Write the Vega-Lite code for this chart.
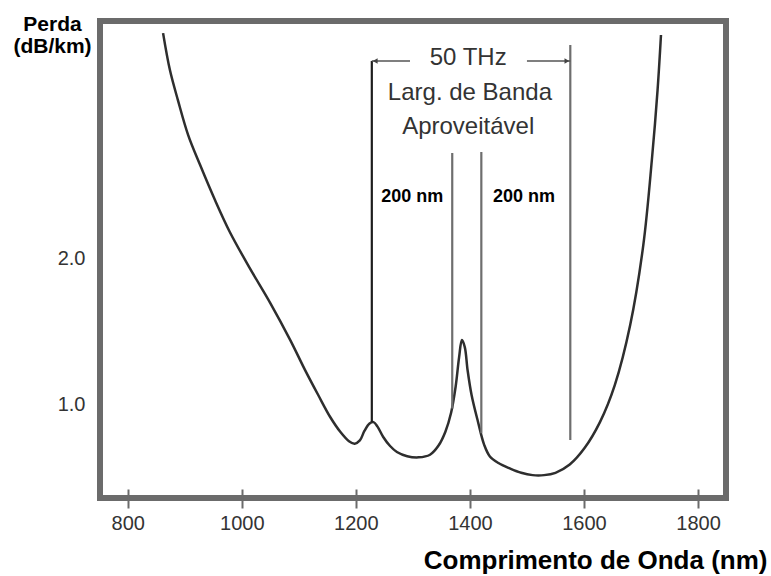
{
  "$schema": "https://vega.github.io/schema/vega-lite/v6.json",
  "width": 626,
  "height": 477,
  "autosize": {"type": "none"},
  "padding": {"left": 100, "top": 21, "right": 45, "bottom": 78},
  "background": "white",
  "config": {"view": {"stroke": "#6b6b6b", "strokeWidth": 6}, "font": "Liberation Sans"},
  "datasets": {
    "curve": [
      {"nm": 862, "v": 3.546}, {"nm": 874, "v": 3.292}, {"nm": 888, "v": 3.086}, {"nm": 906, "v": 2.846},
      {"nm": 927, "v": 2.640}, {"nm": 953, "v": 2.400}, {"nm": 979, "v": 2.181}, {"nm": 1014, "v": 1.933},
      {"nm": 1050, "v": 1.693}, {"nm": 1085, "v": 1.439}, {"nm": 1111, "v": 1.233}, {"nm": 1134, "v": 1.062},
      {"nm": 1155, "v": 0.911}, {"nm": 1173, "v": 0.808}, {"nm": 1188, "v": 0.745}, {"nm": 1198, "v": 0.728},
      {"nm": 1207, "v": 0.750}, {"nm": 1215, "v": 0.815}, {"nm": 1224, "v": 0.866}, {"nm": 1231, "v": 0.876},
      {"nm": 1238, "v": 0.845}, {"nm": 1248, "v": 0.774}, {"nm": 1260, "v": 0.712}, {"nm": 1272, "v": 0.671},
      {"nm": 1290, "v": 0.642}, {"nm": 1310, "v": 0.634}, {"nm": 1330, "v": 0.652}, {"nm": 1345, "v": 0.715},
      {"nm": 1357, "v": 0.810}, {"nm": 1367, "v": 0.940}, {"nm": 1375, "v": 1.120}, {"nm": 1381, "v": 1.320},
      {"nm": 1386, "v": 1.439}, {"nm": 1391, "v": 1.391}, {"nm": 1396, "v": 1.230}, {"nm": 1403, "v": 1.060},
      {"nm": 1414, "v": 0.880}, {"nm": 1425, "v": 0.720}, {"nm": 1435, "v": 0.640}, {"nm": 1450, "v": 0.595},
      {"nm": 1470, "v": 0.558}, {"nm": 1490, "v": 0.528}, {"nm": 1510, "v": 0.512}, {"nm": 1530, "v": 0.512},
      {"nm": 1550, "v": 0.528}, {"nm": 1575, "v": 0.585},
      {"nm": 1601, "v": 0.698}, {"nm": 1628, "v": 0.876}, {"nm": 1654, "v": 1.130}, {"nm": 1681, "v": 1.542},
      {"nm": 1704, "v": 2.091}, {"nm": 1719, "v": 2.675}, {"nm": 1729, "v": 3.155}, {"nm": 1735, "v": 3.533}
    ],
    "vlines": [
      {"nm": 1228, "v": 3.354, "v2": 0.876, "kind": "dark"},
      {"nm": 1369, "v": 2.723, "v2": 0.97, "kind": "gray"},
      {"nm": 1420, "v": 2.730, "v2": 0.80, "kind": "gray"},
      {"nm": 1576, "v": 3.464, "v2": 0.753, "kind": "gray"}
    ],
    "arrows": [
      {"nm": 1228, "nm2": 1295, "v": 3.354},
      {"nm": 1500, "nm2": 1576, "v": 3.354}
    ],
    "heads": [
      {"nm": 1234, "v": 3.354, "dir": "left"},
      {"nm": 1570, "v": 3.354, "dir": "right"}
    ],
    "labels": [
      {"nm": 1397, "v": 3.375, "label": "50 THz"},
      {"nm": 1400, "v": 3.135, "label": "Larg. de Banda"},
      {"nm": 1397, "v": 2.901, "label": "Aproveitável"}
    ],
    "boldlabels": [
      {"nm": 1299, "v": 2.421, "label": "200 nm"},
      {"nm": 1495, "v": 2.421, "label": "200 nm"}
    ]
  },
  "encoding": {
    "x": {
      "field": "nm", "type": "quantitative",
      "scale": {"domain": [751.4, 1849], "nice": false, "zero": false},
      "axis": {
        "values": [800, 1000, 1200, 1400, 1600, 1800], "format": "d",
        "grid": false, "domain": false,
        "offset": -9, "tickSize": 19, "tickColor": "#6b6b6b", "tickWidth": 2,
        "labelFontSize": 20, "labelColor": "#333", "labelPadding": 5,
        "title": "Comprimento de Onda (nm)",
        "titleFontSize": 26, "titleFontWeight": "bold", "titleColor": "#000",
        "titleAlign": "right", "titleBaseline": "alphabetic", "titleX": 667, "titleY": 79
      }
    },
    "y": {
      "field": "v", "type": "quantitative",
      "scale": {"domain": [0.355, 3.629], "nice": false, "zero": false},
      "axis": {
        "values": [1, 2], "format": ".1f",
        "grid": false, "domain": false, "ticks": false,
        "labelFontSize": 20, "labelColor": "#333", "labelPadding": 15,
        "title": ["Perda", "(dB/km)"],
        "titleFontSize": 21, "titleFontWeight": "bold", "titleColor": "#000",
        "titleAngle": 0, "titleAlign": "center", "titleBaseline": "alphabetic",
        "titleX": -48, "titleY": 9, "titleLineHeight": 22
      }
    }
  },
  "layer": [
    {
      "data": {"name": "curve"},
      "mark": {"type": "line", "color": "#2e2e2e", "strokeWidth": 2.5, "interpolate": "catmull-rom"}
    },
    {
      "data": {"name": "vlines"},
      "mark": {"type": "rule", "strokeWidth": 2.2},
      "encoding": {
        "y2": {"field": "v2"},
        "color": {"field": "kind", "type": "nominal", "scale": {"domain": ["dark", "gray"], "range": ["#1e1e1e", "#6e6e6e"]}, "legend": null}
      }
    },
    {
      "data": {"name": "arrows"},
      "mark": {"type": "rule", "strokeWidth": 1.5, "color": "#555"},
      "encoding": {"x2": {"field": "nm2"}}
    },
    {
      "data": {"name": "heads"},
      "mark": {"type": "point", "filled": true, "size": 30, "color": "#444", "opacity": 1},
      "encoding": {
        "shape": {"field": "dir", "type": "nominal", "scale": {"domain": ["left", "right"], "range": ["triangle-left", "triangle-right"]}, "legend": null}
      }
    },
    {
      "data": {"name": "labels"},
      "mark": {"type": "text", "fontSize": 24, "color": "#333", "baseline": "middle", "align": "center"},
      "encoding": {"text": {"field": "label"}}
    },
    {
      "data": {"name": "boldlabels"},
      "mark": {"type": "text", "fontSize": 18, "fontWeight": "bold", "color": "#000", "baseline": "middle", "align": "center"},
      "encoding": {"text": {"field": "label"}}
    }
  ]
}
